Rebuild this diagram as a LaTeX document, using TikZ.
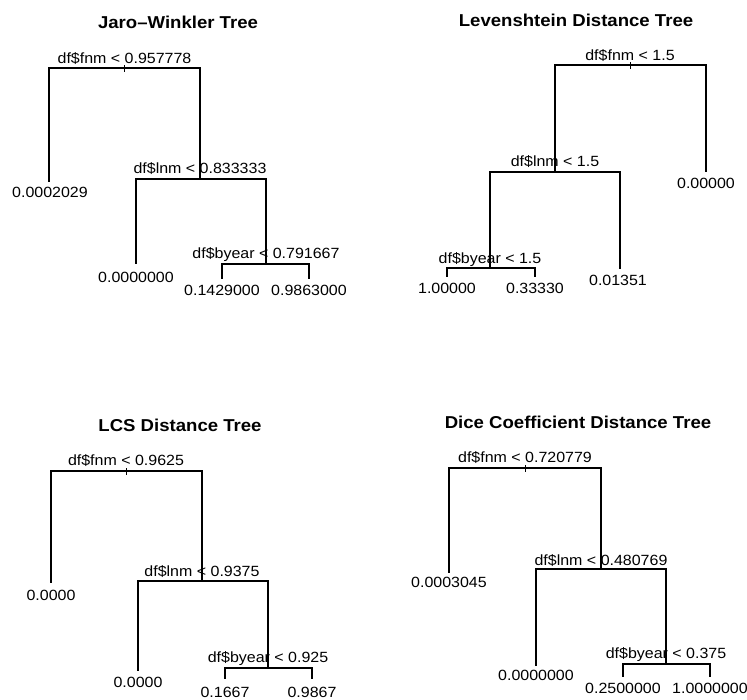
\documentclass[tikz,border=0pt]{standalone}
\usepackage{fontspec}
\setmainfont{Liberation Sans}[FakeStretch=1.08]
\newcommand{\lblfont}{\fontsize{14.8}{16}\selectfont}
\newcommand{\ttlfont}{\fontsize{17.2}{19}\selectfont\bfseries}
\begin{document}
\begin{tikzpicture}[x=1pt,y=-1pt,
  branch/.style={line width=1.5pt, line cap=rect, black},
  roottick/.style={line width=1pt, black},
  lbl/.style={font=\lblfont, anchor=base, inner sep=0pt},
  ttl/.style={font=\ttlfont, anchor=base, inner sep=0pt}]
\useasboundingbox[fill=white] (0,0) rectangle (747,699);

%% ---------------- Panel 1: Jaro-Winkler ----------------
\node[ttl] (T1) at (178,28) {Jaro–Winkler Tree};
\coordinate (A1) at (124.5,68);
\coordinate (A1L) at (49,181);
\coordinate (A2) at (200,179);
\coordinate (A2L) at (136,263);
\coordinate (A3) at (266,264);
\coordinate (A3L) at (222,278);
\coordinate (A3R) at (309,278);
\node[lbl] (A1t) at (124.5,63) {df\$fnm < 0.957778};
\node[lbl] (A2t) at (200,173) {df\$lnm < 0.833333};
\node[lbl] (A3t) at (266,258) {df\$byear < 0.791667};
\node[lbl] (A1Lt) at (50,197) {0.0002029};
\node[lbl] (A2Lt) at (136,282) {0.0000000};
\node[lbl] (A3Lt) at (222,295) {0.1429000};
\node[lbl] (A3Rt) at (309,295) {0.9863000};
\draw[branch] (A1L) -- (A1L |- A1) -- (A2 |- A1) -- (A2);
\draw[branch] (A2L) -- (A2L |- A2) -- (A3 |- A2) -- (A3);
\draw[branch] (A3L) -- (A3L |- A3) -- (A3R |- A3) -- (A3R);
\draw[roottick] ([yshift=3pt]A1) -- ([yshift=-4pt]A1);

%% ---------------- Panel 2: Levenshtein ----------------
\node[ttl] (T2) at (576,26) {Levenshtein Distance Tree};
\coordinate (B1) at (630,65);
\coordinate (B1R) at (706,171);
\coordinate (B2) at (555,172);
\coordinate (B2R) at (620,268);
\coordinate (B3) at (490,268);
\coordinate (B3L) at (447,276);
\coordinate (B3R) at (535,276);
\node[lbl] (B1t) at (630,60) {df\$fnm < 1.5};
\node[lbl] (B2t) at (555,166) {df\$lnm < 1.5};
\node[lbl] (B3t) at (490,263) {df\$byear < 1.5};
\node[lbl] (B1Rt) at (706,188) {0.00000};
\node[lbl] (B2Rt) at (618,285) {0.01351};
\node[lbl] (B3Lt) at (447,293) {1.00000};
\node[lbl] (B3Rt) at (535,293) {0.33330};
\draw[branch] (B2) -- (B2 |- B1) -- (B1R |- B1) -- (B1R);
\draw[branch] (B3) -- (B3 |- B2) -- (B2R |- B2) -- (B2R);
\draw[branch] (B3L) -- (B3L |- B3) -- (B3R |- B3) -- (B3R);
\draw[roottick] ([yshift=3pt]B1) -- ([yshift=-4pt]B1);

%% ---------------- Panel 3: LCS ----------------
\node[ttl] (T3) at (180,431) {LCS Distance Tree};
\coordinate (C1) at (126.5,471);
\coordinate (C1L) at (51,582);
\coordinate (C2) at (202,581);
\coordinate (C2L) at (138,670);
\coordinate (C3) at (268,668);
\coordinate (C3L) at (225,678);
\coordinate (C3R) at (312,678);
\node[lbl] (C1t) at (126,465) {df\$fnm < 0.9625};
\node[lbl] (C2t) at (202,576) {df\$lnm < 0.9375};
\node[lbl] (C3t) at (268,662.5) {df\$byear < 0.925};
\node[lbl] (C1Lt) at (51,600.5) {0.0000};
\node[lbl] (C2Lt) at (138,687) {0.0000};
\node[lbl] (C3Lt) at (225,697) {0.1667};
\node[lbl] (C3Rt) at (312,697) {0.9867};
\draw[branch] (C1L) -- (C1L |- C1) -- (C2 |- C1) -- (C2);
\draw[branch] (C2L) -- (C2L |- C2) -- (C3 |- C2) -- (C3);
\draw[branch] (C3L) -- (C3L |- C3) -- (C3R |- C3) -- (C3R);
\draw[roottick] ([yshift=3pt]C1) -- ([yshift=-4pt]C1);

%% ---------------- Panel 4: Dice ----------------
\node[ttl] (T4) at (578,428) {Dice Coefficient Distance Tree};
\coordinate (D1) at (525,468);
\coordinate (D1L) at (449,572);
\coordinate (D2) at (601,569);
\coordinate (D2L) at (536,665);
\coordinate (D3) at (666,664);
\coordinate (D3L) at (623,676);
\coordinate (D3R) at (710,676);
\node[lbl] (D1t) at (525,462.5) {df\$fnm < 0.720779};
\node[lbl] (D2t) at (601,565) {df\$lnm < 0.480769};
\node[lbl] (D3t) at (666,658) {df\$byear < 0.375};
\node[lbl] (D1Lt) at (449,587) {0.0003045};
\node[lbl] (D2Lt) at (536,680.5) {0.0000000};
\node[lbl] (D3Lt) at (623,693) {0.2500000};
\node[lbl] (D3Rt) at (710,693) {1.0000000};
\draw[branch] (D1L) -- (D1L |- D1) -- (D2 |- D1) -- (D2);
\draw[branch] (D2L) -- (D2L |- D2) -- (D3 |- D2) -- (D3);
\draw[branch] (D3L) -- (D3L |- D3) -- (D3R |- D3) -- (D3R);
\draw[roottick] ([yshift=3pt]D1) -- ([yshift=-4pt]D1);
\end{tikzpicture}
\end{document}
